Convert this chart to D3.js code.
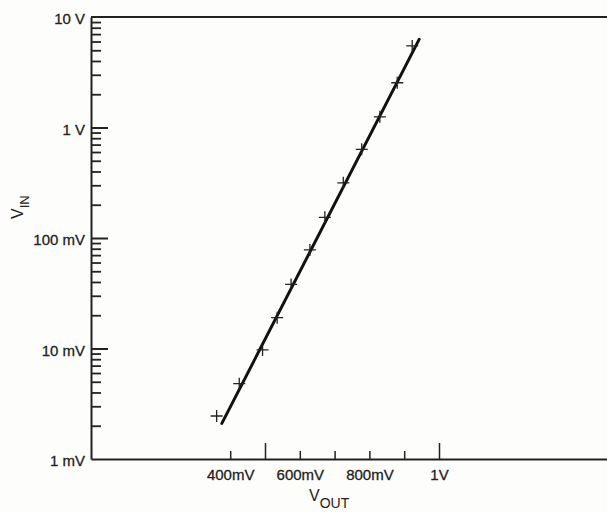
<!DOCTYPE html>
<html>
<head>
<meta charset="utf-8">
<script src="https://cdn.jsdelivr.net/npm/d3@7"></script>
<style>
  body { margin: 0; background: #fdfdfc; }
  svg { display: block; }
  text { font-family: "Liberation Sans", Arial, sans-serif; fill: #222; }
  .axis path, .axis line { stroke: #222; }
</style>
</head>
<body>
<div id="vis"></div>
<script>
// measured points (V_OUT in volts, V_IN in millivolts)
var voutData = [0.361, 0.426, 0.493, 0.535, 0.575, 0.629, 0.672, 0.725, 0.778, 0.830, 0.880, 0.923];
var vinData = [2.45, 4.8, 9.7, 19, 38, 78, 154, 316, 635, 1250, 2540, 5470];

// fitted straight line end points
var fitX = [0.376, 0.943];
var fitY = [2.1, 6280];

// axis ticks
var xTicks = [0.4, 0.5, 0.6, 0.7, 0.8, 0.9, 1.0];
var xTickLabels = {'0.4': '400mV', '0.6': '600mV', '0.8': '800mV', '1': '1V'};
var yMajor = [1, 10, 100, 1000, 10000];
var yLabels = ['1 mV', '10 mV', '100 mV', '1 V', '10 V'];

var width = 607,
    height = 512;

var margin = {left: 91, top: 17, bottom: 53};

var svg = d3.select('#vis')
            .append('svg')
            .attr('width', width)
            .attr('height', height);

var xScale = d3.scaleLinear()
               .domain([0, 1.5])
               .range([margin.left, 613]);

var yScale = d3.scaleLog()
               .domain([1, 10000])
               .range([height - margin.bottom, margin.top]);

// minor ticks 2..9 in each decade
var yMinor = [];
yMajor.slice(0, 4).forEach(function(d) {
    for (var k = 2; k <= 9; k++) yMinor.push(d * k);
});

// top frame line
svg.append('line')
   .attr('x1', xScale(0)).attr('x2', xScale(1.5))
   .attr('y1', yScale(10000)).attr('y2', yScale(10000))
   .attr('stroke', '#222').attr('stroke-width', 2);

// y axis: minor ticks
var yMinorAxis = d3.axisLeft(yScale)
                   .tickValues(yMinor)
                   .tickSizeInner(-10)
                   .tickSizeOuter(0)
                   .tickFormat('');
svg.append('g')
   .attr('class', 'axis')
   .attr('transform', `translate(${xScale(0)},0)`)
   .call(yMinorAxis)
   .call(g => g.selectAll('line').attr('stroke-width', 1.8))
   .call(g => g.select('.domain').attr('stroke-width', 2));

// y axis: majors with labels
var yAxis = d3.axisLeft(yScale)
              .tickValues(yMajor)
              .tickSizeInner(-17)
              .tickSizeOuter(0)
              .tickPadding(6)
              .tickFormat((d, i) => yLabels[i]);
svg.append('g')
   .attr('class', 'axis')
   .attr('transform', `translate(${xScale(0)},0)`)
   .call(yAxis)
   .call(g => g.select('.domain').remove())
   .call(g => g.selectAll('line').attr('stroke-width', 2)
                .attr('display', d => (d == 1 || d == 10000) ? 'none' : null))
   .call(g => g.selectAll('text').attr('font-size', 15).attr('dy', '0.45em')
                .attr('stroke', '#222').attr('stroke-width', 0.3));

// x axis
var xAxis = d3.axisBottom(xScale)
              .tickValues(xTicks)
              .tickSizeInner(-8)
              .tickSizeOuter(0)
              .tickPadding(10)
              .tickFormat(d => xTickLabels[String(d)] || '');
svg.append('g')
   .attr('class', 'axis')
   .attr('transform', `translate(0,${yScale(1)})`)
   .call(xAxis)
   .call(g => g.select('.domain').attr('stroke-width', 2))
   .call(g => g.selectAll('.tick line').attr('stroke-width', 1.5)
                .attr('y1', 0)
                .attr('y2', d => (d == 0.5 || d == 1.0) ? -16 : -8))
   .call(g => g.selectAll('text').attr('font-size', 15)
                .attr('stroke', '#222').attr('stroke-width', 0.3));

// axis titles
var xTitle = svg.append('text')
                .attr('x', 309)
                .attr('y', 501)
                .attr('font-size', 16);
xTitle.append('tspan').text('V');
xTitle.append('tspan').attr('font-size', 14).attr('dy', 7).text('OUT');

var yTitle = svg.append('text')
                .attr('transform', 'translate(23,219) rotate(-90)')
                .attr('font-size', 16);
yTitle.append('tspan').text('V');
yTitle.append('tspan').attr('font-size', 13).attr('dy', 6).text('IN');

// fitted line
var line = d3.line()
             .x(d => xScale(d[0]))
             .y(d => yScale(d[1]));
svg.append('path')
   .datum(fitX.map((d, i) => [d, fitY[i]]))
   .attr('d', line)
   .attr('fill', 'none')
   .attr('stroke', '#111')
   .attr('stroke-width', 3)
   .attr('stroke-linecap', 'round');

// plus markers
var pts = voutData.map((d, i) => ({x: d, y: vinData[i]}));
var marks = svg.selectAll('.mark')
               .data(pts)
               .enter()
               .append('path')
               .attr('class', 'mark')
               .attr('d', d => {
                   var cx = xScale(d.x), cy = yScale(d.y), s = 6;
                   return `M${cx - s},${cy}H${cx + s}M${cx},${cy - s}V${cy + s}`;
               })
               .attr('stroke', '#222')
               .attr('stroke-width', 1.3)
               .attr('fill', 'none');
</script>
</body>
</html>
